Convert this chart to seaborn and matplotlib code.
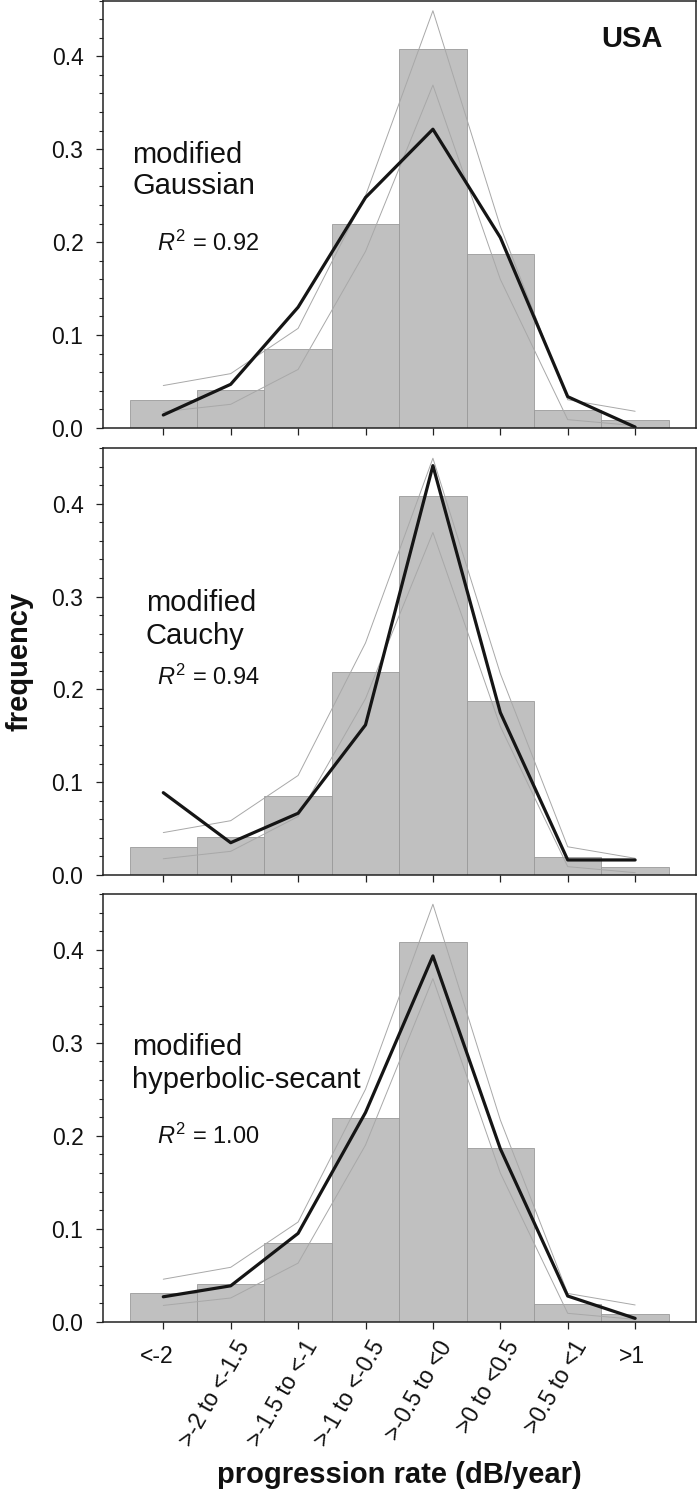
import numpy as np
import pandas as pd
import matplotlib
matplotlib.use("Agg")
import matplotlib.pyplot as plt
from matplotlib.ticker import MultipleLocator
from matplotlib.transforms import ScaledTranslation
import seaborn as sns

# ---------------- data ----------------
categories = ["<-2", ">-2 to <-1.5", ">-1.5 to <-1", ">-1 to <-0.5",
              ">-0.5 to <0", ">0 to <0.5", ">0.5 to <1", ">1"]
observed = [0.0305, 0.0405, 0.085, 0.219, 0.408, 0.187, 0.019, 0.0083]
ci_upper = [0.0457, 0.0585, 0.1072, 0.250, 0.449, 0.217, 0.0304, 0.018]
ci_lower = [0.0175, 0.0255, 0.063, 0.190, 0.369, 0.160, 0.009, 0.0025]
fit_gaussian = [0.014, 0.047, 0.130, 0.248, 0.3215, 0.205, 0.0337, 0.001]
fit_cauchy = [0.0887, 0.0348, 0.0665, 0.1617, 0.441, 0.175, 0.0162, 0.0162]
fit_hypsec = [0.0268, 0.0386, 0.095, 0.225, 0.3934, 0.186, 0.0276, 0.0036]

models = [
    ("modified", "Gaussian", "0.92", fit_gaussian),
    ("modified", "Cauchy", "0.94", fit_cauchy),
    ("modified", "hyperbolic-secant", "1.00", fit_hypsec),
]
y_ticks = [0.0, 0.1, 0.2, 0.3, 0.4]

# ---------------- style ----------------
sns.set_style("ticks")
plt.rcParams["font.family"] = ["Liberation Sans", "DejaVu Sans"]
plt.rcParams["mathtext.fontset"] = "custom"
plt.rcParams["mathtext.rm"] = "Liberation Sans"
plt.rcParams["mathtext.it"] = "Liberation Sans:italic"
plt.rcParams["mathtext.bf"] = "Liberation Sans:bold"

W, H = 697, 1491
fig = plt.figure(figsize=(W / 100, H / 100), dpi=100)

left = 103.3 / W
width = 592.7 / W
panels = [(0.5, 428.0), (448.0, 875.0), (894.0, 1321.7)]

# text positions (data coords) per panel: (x_name, y_line1, y_line2, x_r2, y_r2)
text_pos = [
    (-0.46, 0.2853, 0.2516, -0.098, 0.191),
    (-0.26, 0.2839, 0.2491, -0.098, 0.2049),
    (-0.47, 0.2872, 0.2515, -0.098, 0.1914),
]

x_pos = np.arange(len(categories))
df_bar = pd.DataFrame({"cat": categories, "freq": observed})

for i, ((top_px, bot_px), (l1, l2, r2, fit), tp) in enumerate(zip(panels, models, text_pos)):
    ax = fig.add_axes([left, 1 - bot_px / H, width, (bot_px - top_px) / H])
    sns.barplot(data=df_bar, x="cat", y="freq", ax=ax, width=1.0,
                color="#c0c0c0", saturation=1, edgecolor="#9a9a9a", linewidth=0.6)
    sns.lineplot(x=x_pos, y=ci_upper, ax=ax, color="#a8a8a8", linewidth=0.7)
    sns.lineplot(x=x_pos, y=ci_lower, ax=ax, color="#a8a8a8", linewidth=0.7)
    sns.lineplot(x=x_pos, y=fit, ax=ax, color="#151515", linewidth=2.3)

    ax.set_xlim(-0.89, 7.903)
    ax.set_ylim(0, 0.46)
    ax.set_yticks(y_ticks)
    ax.set_yticklabels([f"{v:.1f}" for v in y_ticks])
    ax.yaxis.set_minor_locator(MultipleLocator(0.02))
    ax.set_xlabel("")
    ax.set_ylabel("")
    for s in ax.spines.values():
        s.set_visible(True)
        s.set_color("#222222")
        s.set_linewidth(1.1)
    ax.tick_params(axis="y", which="major", length=4.8, width=0.9, pad=9.5,
                   labelsize=16.5, colors="#222222")
    ax.tick_params(axis="y", which="minor", length=2.9, width=0.8, colors="#222222")
    ax.tick_params(axis="x", which="major", length=4.8, width=0.9, colors="#222222",
                   pad=6)
    ax.tick_params(axis="y", labelcolor="#111111")

    ax.set_xticks(x_pos)
    if i < 2:
        ax.set_xticklabels([])
    else:
        ax.set_xticklabels(categories, rotation=60, ha="right", va="top",
                           fontsize=16.5, color="#111111")
        for lbl in ax.get_xticklabels():
            if len(lbl.get_text()) <= 3:
                lbl.set_rotation(0)
                off = ScaledTranslation(10 / 100, -8 / 100, fig.dpi_scale_trans)
            else:
                off = ScaledTranslation(24 / 100, 0, fig.dpi_scale_trans)
            lbl.set_transform(lbl.get_transform() + off)

    ax.text(tp[0], tp[1], l1, fontsize=21, ha="left", va="baseline", color="#111111")
    ax.text(tp[0], tp[2], l2, fontsize=21, ha="left", va="baseline", color="#111111")
    ax.text(tp[3], tp[4], r"$R^2$ = " + r2, fontsize=17, ha="left", va="baseline",
            color="#111111")
    if i == 0:
        ax.text(7.414, 0.4097, "USA", fontsize=21, fontweight="bold", ha="right",
                va="baseline", color="#111111")

fig.text(19.5 / W, 1 - 661 / H, "frequency", rotation=90, fontsize=21,
         fontweight="bold", ha="center", va="center", color="#111111")
fig.text(399.5 / W, 1 - 1483 / H, "progression rate (dB/year)", fontsize=21,
         fontweight="bold", ha="center", va="baseline", color="#111111")

fig.savefig("out.png", dpi=100)
